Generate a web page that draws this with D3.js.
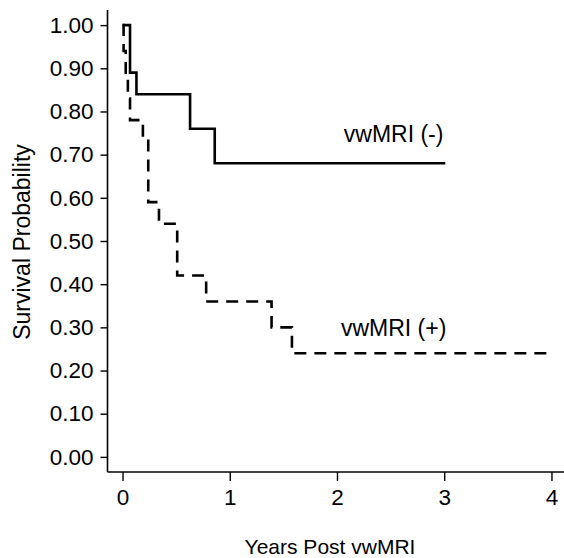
<!DOCTYPE html>
<html>
<head>
<meta charset="utf-8">
<script src="https://cdn.jsdelivr.net/npm/d3@7"></script>
<style>
  html, body { margin: 0; padding: 0; background: #fff; }
  svg { display: block; }
  text { font-family: "Liberation Sans", Arial, Helvetica, sans-serif; fill: #000; }
</style>
</head>
<body>
<svg id="chart" width="564" height="558"></svg>
<script>
// ---- data (Kaplan-Meier step points: time in years, survival probability) ----
const negTimes = [0, 0.07, 0.13, 0.63, 0.86, 3.01];
const negSurv  = [1.00, 0.89, 0.84, 0.76, 0.68, 0.68];

const posTimes = [0, 0.01, 0.03, 0.05, 0.07, 0.19, 0.24, 0.34, 0.51, 0.78, 1.39, 1.58, 3.96];
const posSurv  = [1.00, 0.94, 0.89, 0.83, 0.78, 0.74, 0.59, 0.54, 0.42, 0.36, 0.30, 0.24, 0.24];

const xTicks = [0, 1, 2, 3, 4];
const yTicks = [0, 0.1, 0.2, 0.3, 0.4, 0.5, 0.6, 0.7, 0.8, 0.9, 1.0];

const seriesLabels = ["vwMRI (-)", "vwMRI (+)"];
const labelPos = [{t: 2.5, s: 0.73}, {t: 2.5, s: 0.28}];
const xTitle = "Years Post vwMRI";
const yTitle = "Survival Probability";

// ---- layout ----
const svg = d3.select("#chart");
const x = d3.scaleLinear().domain([-0.14, 4.117]).range([107.5, 564]);
const y = d3.scaleLinear().domain([-0.035, 1.035]).range([472, 10]);

const FS = 22.5;

// axes
const yAxis = d3.axisLeft(y).tickValues(yTicks).tickSize(7).tickPadding(7)
  .tickFormat(d3.format(".2f"));
const gy = svg.append("g").attr("transform", `translate(${x.range()[0]},0)`).call(yAxis);
const xAxis = d3.axisBottom(x).tickValues(xTicks).tickSize(9).tickPadding(8)
  .tickFormat(d3.format("d"));
const gx = svg.append("g").attr("transform", `translate(0,${y.range()[0]})`).call(xAxis);

[gx, gy].forEach(g => {
  g.select(".domain").remove();
  g.selectAll(".tick line").attr("stroke", "#000").attr("stroke-width", 1.4);
  g.selectAll(".tick text").attr("font-size", FS)
    .attr("font-family", "'Liberation Sans', Arial, sans-serif").attr("fill", "#000");
});
// explicit axis lines (open box)
svg.append("line").attr("x1", x.range()[0]).attr("x2", x.range()[0])
  .attr("y1", y.range()[1]).attr("y2", y.range()[0])
  .attr("stroke", "#000").attr("stroke-width", 1.6);
svg.append("line").attr("x1", x.range()[0]).attr("x2", x.range()[1])
  .attr("y1", y.range()[0]).attr("y2", y.range()[0])
  .attr("stroke", "#000").attr("stroke-width", 1.6);

// step curves
const line = d3.line().x(d => x(d[0])).y(d => y(d[1])).curve(d3.curveStepAfter);
const negData = negTimes.map((t, i) => [t, negSurv[i]]);
const posData = posTimes.map((t, i) => [t, posSurv[i]]);

svg.append("path").datum(posData).attr("d", line)
  .attr("fill", "none").attr("stroke", "#000").attr("stroke-width", 2.6)
  .attr("stroke-dasharray", "12,8");
svg.append("path").datum(negData).attr("d", line)
  .attr("fill", "none").attr("stroke", "#000").attr("stroke-width", 2.6);

// series labels
seriesLabels.forEach((lab, i) => {
  svg.append("text").attr("x", x(labelPos[i].t) + 3).attr("y", y(labelPos[i].s))
    .attr("text-anchor", "middle").attr("font-size", 23).text(lab);
});

// axis titles
svg.append("text").attr("x", 330).attr("y", 554).attr("text-anchor", "middle")
  .attr("font-size", 21).text(xTitle);
svg.append("text").attr("transform", "translate(30,242) rotate(-90)")
  .attr("text-anchor", "middle").attr("font-size", 23).text(yTitle);
</script>
</body>
</html>
